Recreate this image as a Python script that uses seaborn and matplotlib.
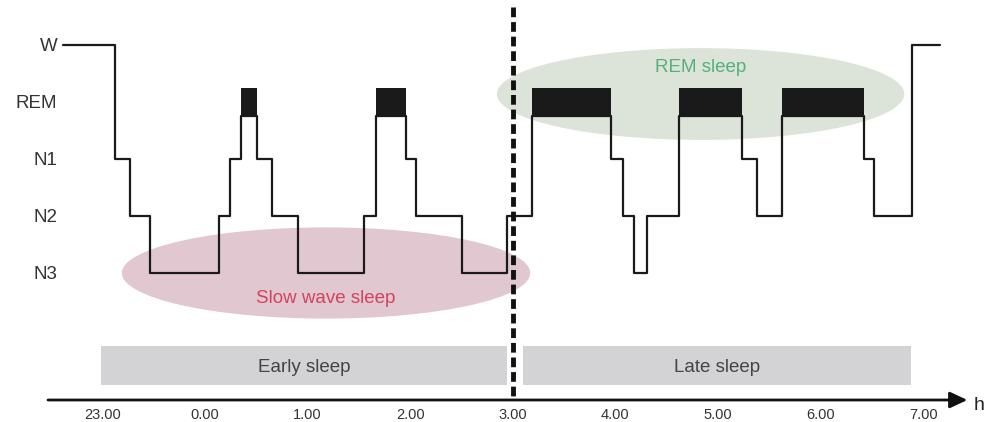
import matplotlib
matplotlib.use("Agg")
import matplotlib.pyplot as plt
from matplotlib import font_manager
from matplotlib.patches import Ellipse
import seaborn as sns
import pandas as pd

# ----------------------------
# Data (hours after midnight)
# ----------------------------
change_times = [-1.38, -0.88, -0.73, -0.54, 0.14, 0.24, 0.35, 0.51, 0.65, 0.91,
                1.55, 1.67, 1.96, 2.06, 2.50, 2.94, 3.19, 3.96, 4.07, 4.18,
                4.31, 4.62, 5.23, 5.38, 5.62, 6.42, 6.52, 6.89, 7.16]
stages = ["W", "N1", "N2", "N3", "N2", "N1", "REM", "N1", "N2", "N3",
          "N2", "REM", "N1", "N2", "N3", "N2", "REM", "N1", "N2", "N3",
          "N2", "REM", "N1", "N2", "REM", "N1", "N2", "W"]
stage_names = ["N3", "N2", "N1", "REM", "W"]
tick_hours = [-1, 0, 1, 2, 3, 4, 5, 6, 7]
tick_labels = ["23.00", "0.00", "1.00", "2.00", "3.00", "4.00", "5.00", "6.00", "7.00"]
split_hour = 3.0
phase_names = ["Early sleep", "Late sleep"]
phase_start = [-1.01, 3.10]
phase_end = [2.94, 6.88]

# ----------------------------
# Style
# ----------------------------
sns.set_style("white")
plt.rcParams["font.family"] = ["Liberation Sans", "DejaVu Sans"]
installed = {f.name for f in font_manager.fontManager.ttflist}
narrow = "Liberation Sans Narrow" if "Liberation Sans Narrow" in installed else "Liberation Sans"

fig = plt.figure(figsize=(9.85, 4.22), dpi=100)
ax = fig.add_axes([60 / 985, 22 / 422, 925 / 985, 400 / 422])
x0, x1 = -1.413, 7.602
y0, y1 = -2.228, 4.789
ax.set_xlim(x0, x1)
ax.set_ylim(y0, y1)

# background ellipses
ax.add_patch(Ellipse((1.18, 0.0), 3.98, 1.6, color="#e1c7cf", zorder=1, lw=0))
ax.add_patch(Ellipse((4.83, 3.14), 3.97, 1.61, color="#dce3d8", zorder=1, lw=0))
ax.text(1.18, -0.44, "Slow wave sleep", color="#d4435e", fontsize=13.5,
        ha="center", va="center", zorder=2)
ax.text(4.83, 3.6, "REM sleep", color="#55b07a", fontsize=13.5,
        ha="center", va="center", zorder=2)

# hypnogram
level = {name: i for i, name in enumerate(stage_names)}
rem_half = 0.25
y = [level[s] - (rem_half if s == "REM" else 0) for s in stages]
hyp = pd.DataFrame({"t": change_times, "y": y + [y[-1]]})
sns.lineplot(data=hyp, x="t", y="y", drawstyle="steps-post", color="#1a1a1a",
             lw=1.6, ax=ax, zorder=3)

# REM blocks
for i, s in enumerate(stages):
    if s == "REM":
        ax.bar(change_times[i], 2 * rem_half,
               width=change_times[i + 1] - change_times[i],
               bottom=level["REM"] - rem_half,
               align="edge", color="#1a1a1a", zorder=3, lw=0)

# early / late sleep bars
for name, a, b in zip(phase_names, phase_start, phase_end):
    ax.barh(-1.623, b - a, left=a, height=0.684, color="#d3d3d5", zorder=2, lw=0)
    ax.text((a + b) / 2, -1.65, name, color="#444444", fontsize=13.5,
            ha="center", va="center", zorder=3)

# split line
ax.plot([split_hour, split_hour], [4.667, y0], color="#111111", lw=3.5,
        linestyle=(0, (2, 1)), dash_capstyle="butt", zorder=4, clip_on=False)

# time axis with arrow
ax.annotate("", xy=(7.43, y0), xytext=(-1.53, y0),
            arrowprops=dict(arrowstyle="-|>,head_length=0.75,head_width=0.35",
                            color="#111111", lw=2, mutation_scale=14,
                            shrinkA=0, shrinkB=0), annotation_clip=False, zorder=5)
ax.text(7.54, -2.33, "h", fontsize=14, color="#222222", ha="center", va="center",
        clip_on=False)

ax.set_xticks(tick_hours, tick_labels)
ax.set_yticks(range(len(stage_names)), stage_names)
ax.tick_params(axis="x", length=0, pad=6, labelsize=10.5, labelcolor="#333333")
for lab in ax.get_xticklabels():
    lab.set_family(narrow)
ax.tick_params(axis="y", length=0, pad=2, labelsize=13.5, labelcolor="#333333")
ax.set_xlabel("")
ax.set_ylabel("")
for sp in ax.spines.values():
    sp.set_visible(False)

fig.savefig("out.png", dpi=100)
